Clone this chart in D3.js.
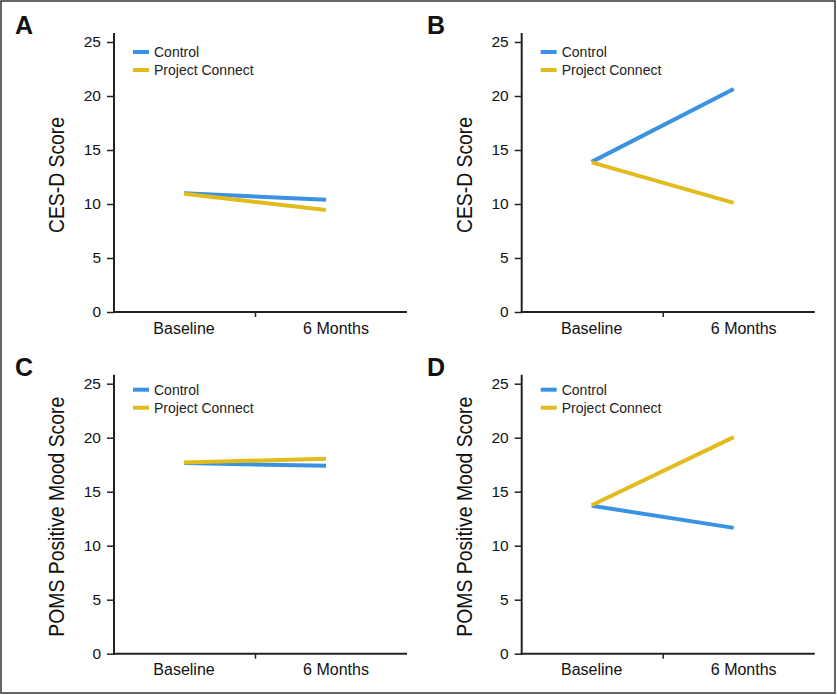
<!DOCTYPE html>
<html>
<head>
<meta charset="utf-8">
<script src="https://cdn.jsdelivr.net/npm/d3@7"></script>
<style>
  html, body { margin: 0; padding: 0; background: #fff; }
  svg { display: block; font-family: "Liberation Sans", Arial, sans-serif; }
</style>
</head>
<body>
<svg id="chart" width="837" height="695"></svg>
<script>
// ---- data ----
const categories = ["Baseline", "6 Months"];
const seriesNames = ["Control", "Project Connect"];
const seriesColors = ["#3a92e2", "#e2bc1c"];
const panelLetters = ["A", "B", "C", "D"];
const yTitles = ["CES-D Score", "CES-D Score", "POMS Positive Mood Score", "POMS Positive Mood Score"];
const yTicks = [0, 5, 10, 15, 20, 25];
const controlA = [11.0, 10.4];
const connectA = [10.95, 9.45];
const controlB = [13.9, 20.65];
const connectB = [13.85, 10.1];
const controlC = [17.65, 17.4];
const connectC = [17.7, 18.05];
const controlD = [13.7, 11.65];
const connectD = [13.75, 20.05];

const panelData = [
  [controlA, connectA],
  [controlB, connectB],
  [controlC, connectC],
  [controlD, connectD]
];

// ---- layout ----
const svg = d3.select("#chart");
const plotW = 293, plotH = 270;
const origins = [[114, 42], [521.7, 42], [114, 383.7], [521.7, 383.7]];
const letterX = [15, 427, 15, 427];
const legendDy = [10, 10, 6, 6];

// frame
svg.append("rect")
  .attr("x", 1).attr("y", 1).attr("width", 834).attr("height", 692)
  .attr("fill", "none").attr("stroke", "#333").attr("stroke-width", 1.5);

const y = d3.scaleLinear().domain([0, 25]).range([plotH, 0]);
const xLine = d3.scalePoint().domain(categories).range([70, 212]);
const xLabel = d3.scalePoint().domain(categories).range([70, 222]);
const xBand = d3.scaleBand().domain(categories).range([0, 283]);

panelData.forEach((series, i) => {
  const [ox, oy] = origins[i];
  const g = svg.append("g").attr("transform", `translate(${ox},${oy})`);

  // panel letter
  svg.append("text")
    .attr("x", letterX[i]).attr("y", oy - 8)
    .attr("font-size", 25).attr("font-weight", "bold").attr("fill", "#111")
    .text(panelLetters[i]);

  // y axis
  const yAxis = d3.axisLeft(y).tickValues(yTicks).tickSize(7).tickPadding(6).tickSizeOuter(0);
  const ya = g.append("g").call(yAxis);
  ya.select(".domain").remove();
  ya.selectAll(".tick line").attr("stroke", "#222").attr("stroke-width", 1.5);
  ya.selectAll(".tick text").attr("font-size", 15.5).attr("fill", "#111")
    .attr("font-family", "'Liberation Sans', Arial, sans-serif");
  g.append("line")
    .attr("x1", 0).attr("x2", 0).attr("y1", y(0) + 1).attr("y2", y(25) - 9)
    .attr("stroke", "#222").attr("stroke-width", 2);

  // x axis
  g.append("line")
    .attr("x1", -1).attr("x2", plotW).attr("y1", y(0)).attr("y2", y(0))
    .attr("stroke", "#222").attr("stroke-width", 2);
  g.append("line")
    .attr("x1", xBand.step()).attr("x2", xBand.step())
    .attr("y1", y(0)).attr("y2", y(0) + 5)
    .attr("stroke", "#222").attr("stroke-width", 1.5);
  g.selectAll(".xlab").data(categories).enter().append("text")
    .attr("x", d => xLabel(d)).attr("y", y(0) + 21.5)
    .attr("text-anchor", "middle").attr("font-size", 16).attr("fill", "#111")
    .text(d => d);

  // y title (condensed look)
  g.append("text")
    .attr("transform", `translate(-50,${plotH / 2 - 2}) rotate(-90) scale(0.88,1)`)
    .attr("text-anchor", "middle").attr("font-size", 22).attr("fill", "#111")
    .text(yTitles[i]);

  // legend
  seriesNames.forEach((name, k) => {
    const ly = legendDy[i] + k * 18;
    g.append("line")
      .attr("x1", 19).attr("x2", 35).attr("y1", ly).attr("y2", ly)
      .attr("stroke", seriesColors[k]).attr("stroke-width", 4);
    g.append("text")
      .attr("x", 40).attr("y", ly + 5)
      .attr("font-size", 14).attr("fill", "#222")
      .text(name);
  });

  // lines
  const line = d3.line().x((d, j) => xLine(categories[j])).y(d => y(d));
  series.forEach((vals, k) => {
    g.append("path")
      .datum(vals)
      .attr("d", line)
      .attr("fill", "none")
      .attr("stroke", seriesColors[k])
      .attr("stroke-width", 4);
  });
});
</script>
</body>
</html>
